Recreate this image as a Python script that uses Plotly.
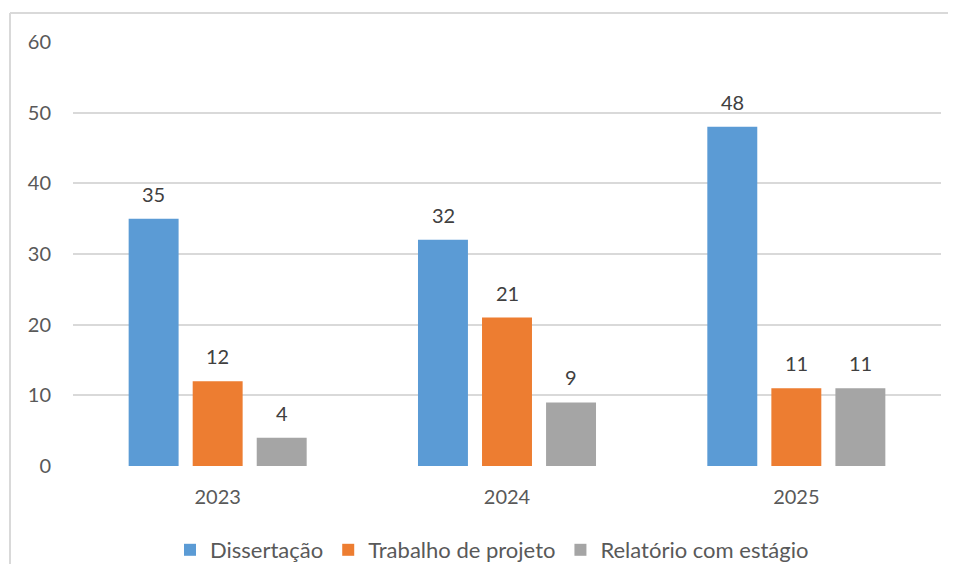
import plotly.graph_objects as go

categories = ["2023", "2024", "2025"]
series_names = ["Dissertação", "Trabalho de projeto", "Relatório com estágio"]
dissertacao = [35, 32, 48]
trabalho = [12, 21, 11]
relatorio = [4, 9, 11]
y_ticks = [0, 10, 20, 30, 40, 50, 60]

colors = ["#5B9BD5", "#ED7D31", "#A5A5A5"]
values = [dissertacao, trabalho, relatorio]

# page has an 8px body margin; figure sized to fit inside the 957x581 window
OFF = 8
W, H = 957 - 2 * OFF, 581 - 2 * OFF - 8
ml, mr, mt, mb = 73 - OFF, W - (941 - OFF), 42 - OFF, H - (466 - OFF)
pw = W - ml - mr
ph = H - mt - mb

FONT = "Lato, Carlito, Calibri, sans-serif"
fig = go.Figure()
for name, vals, c in zip(series_names, values, colors):
    fig.add_trace(go.Bar(x=list(range(len(categories))), y=vals, name=name,
                         marker=dict(color=c, line=dict(width=0))))

# data labels
slot = 64 / (pw / 3)
annotations = []
for si, vals in enumerate(values):
    for ci, v in enumerate(vals):
        annotations.append(dict(x=ci + (si - 1) * slot, y=v, xref="x", yref="y",
                                text=str(v), showarrow=False, yanchor="bottom",
                                yshift=11, font=dict(size=20, color="#404040", family=FONT)))

def px_to_paper_x(px):
    return (px - OFF - ml) / pw

def py_to_paper_y(py):
    return (H - mb - (py - OFF)) / ph

# chart border (top and left edges visible in the reference), kept inside the figure
right_edge = OFF + W - 1
bottom_edge = OFF + H - 1
shapes = [
    dict(type="line", xref="paper", yref="paper", x0=px_to_paper_x(10), x1=px_to_paper_x(right_edge),
         y0=py_to_paper_y(13), y1=py_to_paper_y(13), line=dict(color="#D9D9D9", width=2)),
    dict(type="line", xref="paper", yref="paper", x0=px_to_paper_x(10), x1=px_to_paper_x(10),
         y0=py_to_paper_y(13), y1=py_to_paper_y(bottom_edge), line=dict(color="#D9D9D9", width=2)),
]

fig.update_layout(
    width=W, height=H,
    margin=dict(l=ml, r=mr, t=mt, b=mb, autoexpand=False),
    paper_bgcolor="white", plot_bgcolor="white",
    barmode="group", bargap=0.336, bargroupgap=0.22,
    font=dict(family=FONT, size=20, color="#595959"),
    xaxis=dict(tickmode="array", tickvals=list(range(len(categories))), ticktext=categories,
               range=[-0.5, 2.5], showgrid=False, zeroline=False, showline=False,
               ticks="", ticklabelstandoff=17, tickfont=dict(size=20, color="#595959")),
    yaxis=dict(range=[0, 60], tickvals=y_ticks, showgrid=True, gridcolor="#D9D9D9",
               gridwidth=1.5, zeroline=False, showline=False, ticks="",
               ticklabelstandoff=21, tickfont=dict(size=20, color="#595959")),
    legend=dict(orientation="h", x=px_to_paper_x(492), xanchor="center",
                y=py_to_paper_y(550), yanchor="middle",
                font=dict(size=22, color="#595959"), itemwidth=30,
                traceorder="normal"),
    annotations=annotations,
    shapes=shapes,
    showlegend=True,
)

fig.write_html("out.html")
